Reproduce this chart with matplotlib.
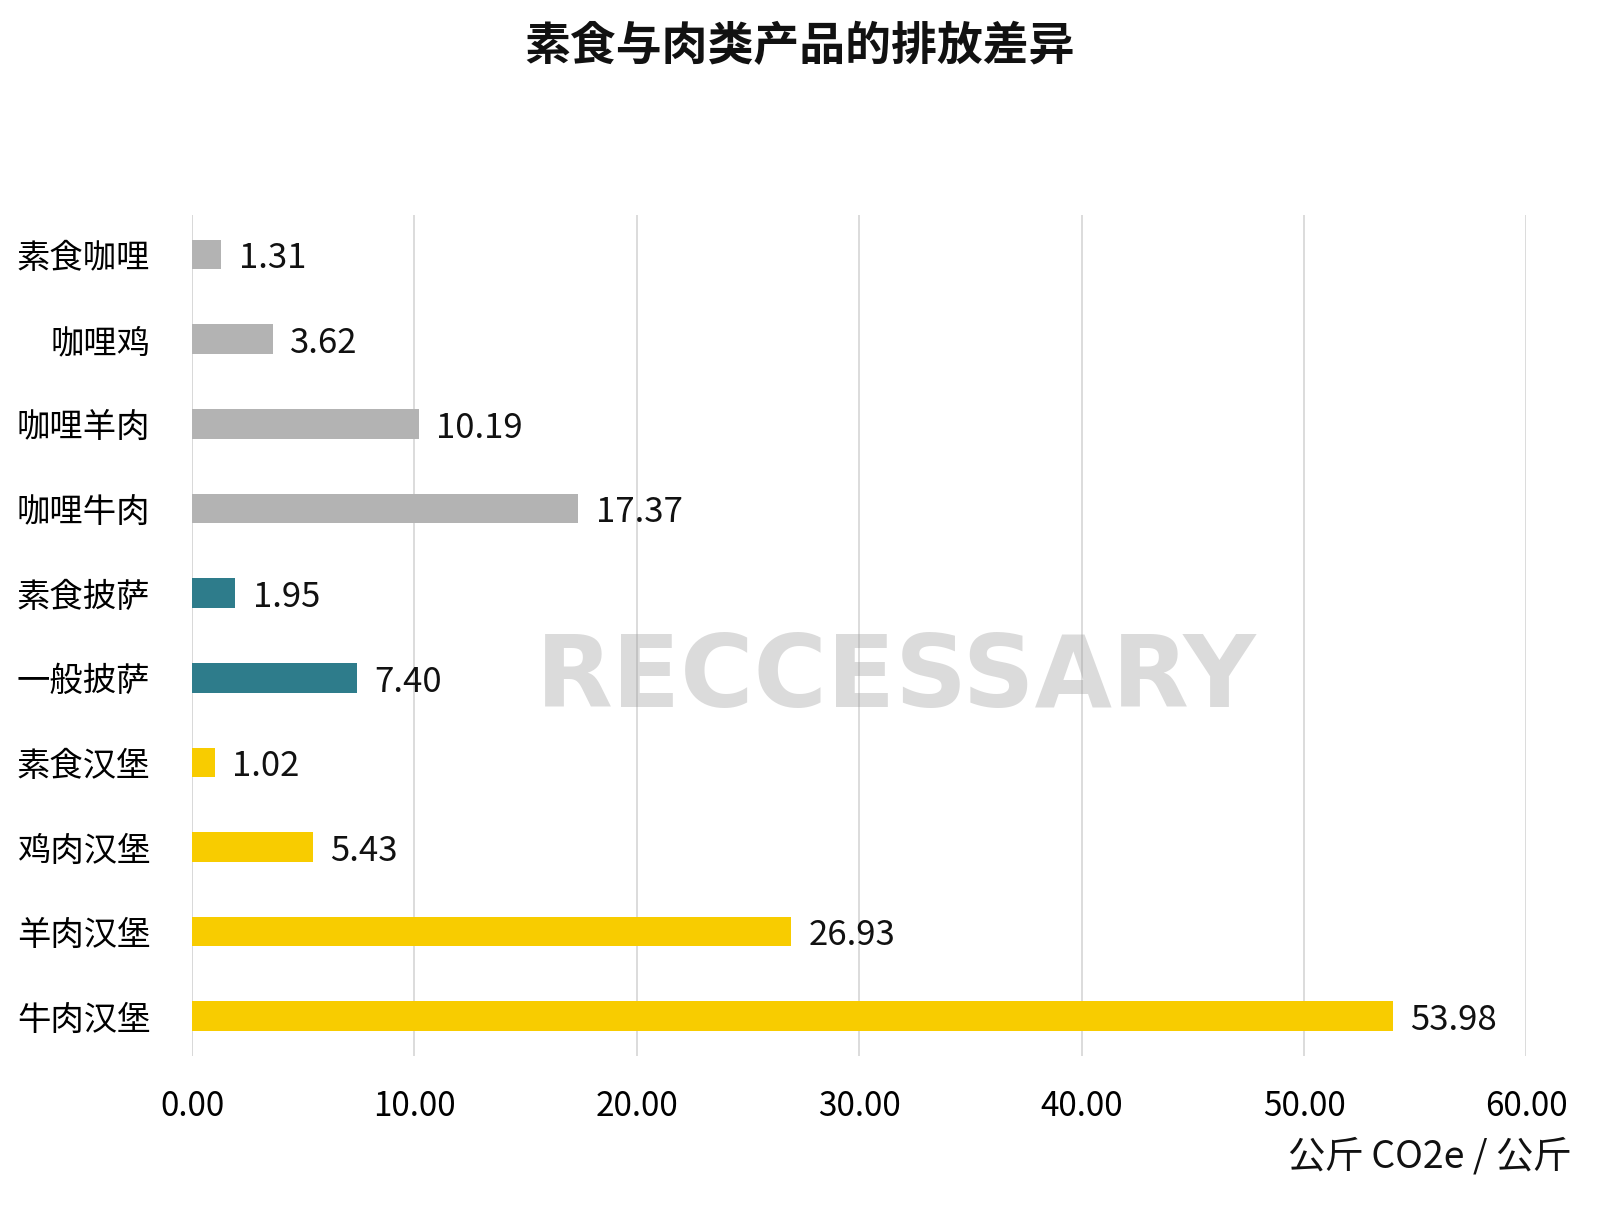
import matplotlib
matplotlib.use("Agg")
import matplotlib.pyplot as plt
from matplotlib import font_manager as fm

cjk = None
for f in fm.fontManager.ttflist:
    if "CJK" in f.name and "SC" in f.name:
        cjk = f.name
        break
if cjk is None:
    for f in fm.fontManager.ttflist:
        if "CJK" in f.name:
            cjk = f.name
            break
plt.rcParams["font.family"] = [cjk or "Noto Sans CJK SC", "DejaVu Sans"]

categories = ["素食咖哩", "咖哩鸡", "咖哩羊肉", "咖哩牛肉", "素食披萨", "一般披萨", "素食汉堡", "鸡肉汉堡", "羊肉汉堡", "牛肉汉堡"]
values = [1.31, 3.62, 10.19, 17.37, 1.95, 7.40, 1.02, 5.43, 26.93, 53.98]
groups = ["curry"] * 4 + ["pizza"] * 2 + ["burger"] * 4
group_colors = {"curry": "#b3b3b3", "pizza": "#2e7c8b", "burger": "#f8cc00"}
xticks = [0, 10, 20, 30, 40, 50, 60]

fig = plt.figure(figsize=(16, 12.28), dpi=100)
ax = fig.add_axes([0.12, 0.14, 0.834, 0.685])
y = list(range(len(categories)))
ax.barh(y, values, height=0.35, color=[group_colors[g] for g in groups], zorder=3)
for yi, v in zip(y, values):
    ax.text(v + 0.8, yi + 0.05, f"{v:.2f}", va="center", ha="left", fontsize=25, color="#111")
ax.set_ylim(9.47, -0.47)
ax.set_xlim(0, 60)
ax.set_xticks(xticks)
ax.set_xticklabels([f"{t:.2f}" for t in xticks], fontsize=24)
ax.set_yticks(y)
ax.set_yticklabels(categories, fontsize=24)
ax.tick_params(length=0, pad=30)
ax.tick_params(axis="x", pad=24)
ax.grid(axis="x", color="#d9d9d9", lw=1.3, zorder=0)
for s in ax.spines.values():
    s.set_visible(False)
ax.axvline(0, color="#d9d9d9", lw=1.3, zorder=1)

fig.text(0.5, 0.962, "素食与肉类产品的排放差异", ha="center", va="center", fontsize=33, fontweight="bold", color="#111")
fig.text(0.982, 0.058, "公斤 CO2e / 公斤", ha="right", va="center", fontsize=27, color="#111")
fig.text(0.56, 0.447, "RECCESSARY", ha="center", va="center", fontsize=72, fontweight="bold",
         color="#999999", alpha=0.35, family="DejaVu Sans", zorder=0)
fig.savefig("out.png")
